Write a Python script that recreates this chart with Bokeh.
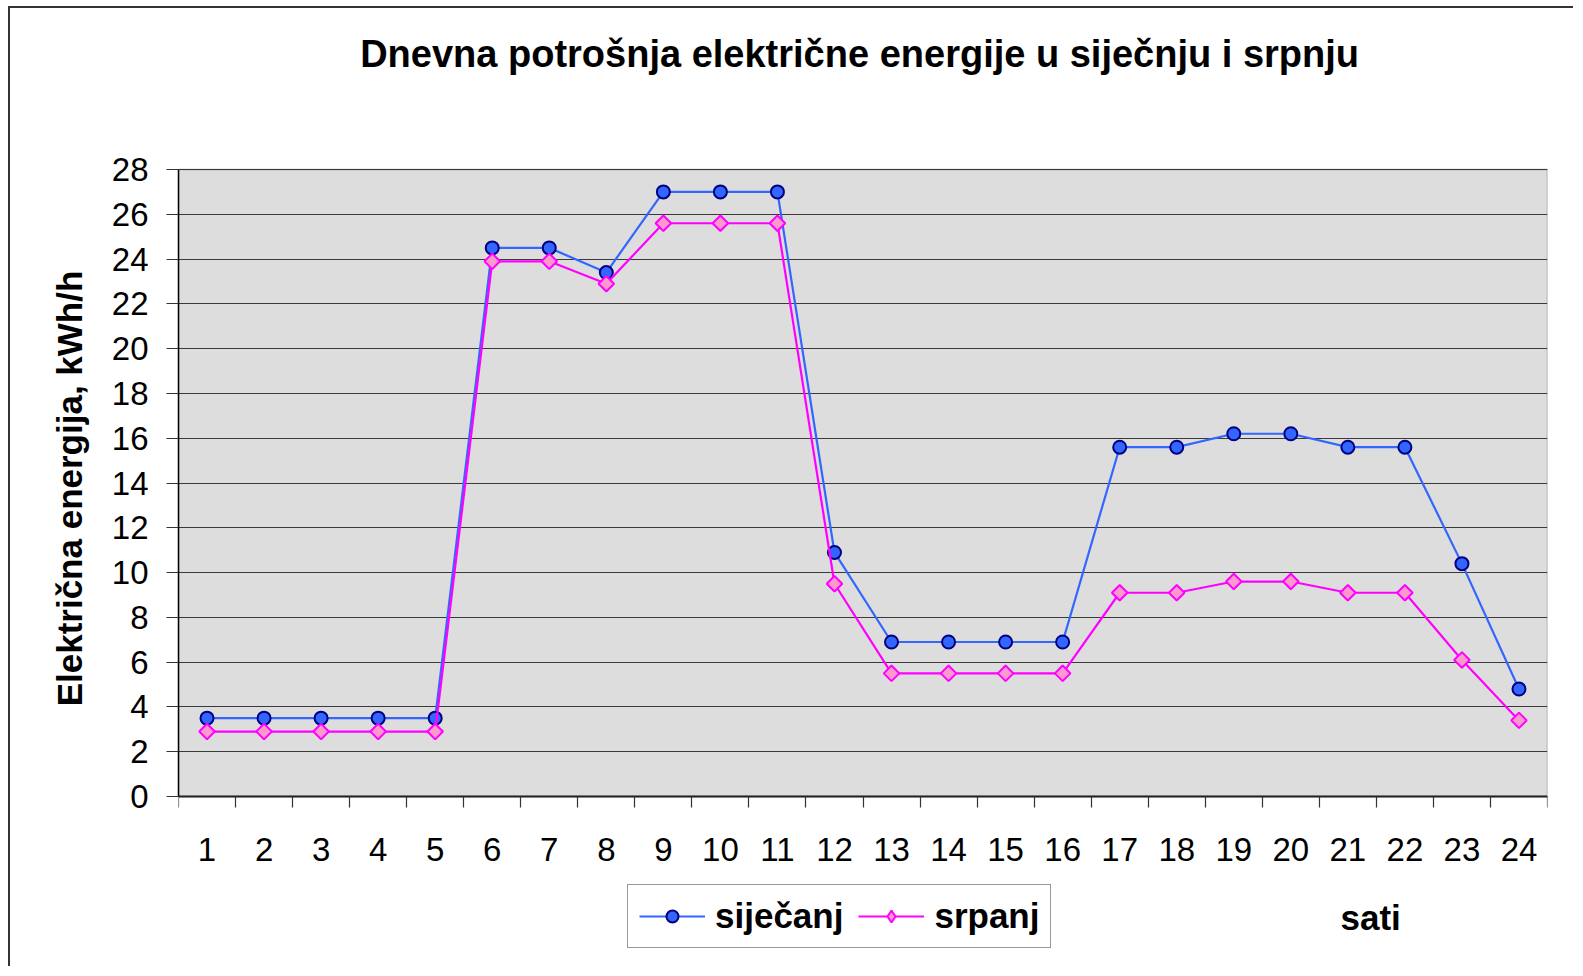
from bokeh.plotting import figure
from bokeh.models import (FixedTicker, Range1d, Label, Legend, LegendItem,
                          ColumnDataSource, BoxAnnotation, Title)
from bokeh.embed import file_html
from bokeh.resources import INLINE
from math import pi

# ---- data ----
hours = list(range(1, 25))
hour_labels = [str(h) for h in hours]
sijecanj = [3.5, 3.5, 3.5, 3.5, 3.5, 24.5, 24.5, 23.4, 27.0, 27.0, 27.0, 10.9,
            6.9, 6.9, 6.9, 6.9, 15.6, 15.6, 16.2, 16.2, 15.6, 15.6, 10.4, 4.8]
srpanj = [2.9, 2.9, 2.9, 2.9, 2.9, 23.9, 23.9, 22.9, 25.6, 25.6, 25.6, 9.5,
          5.5, 5.5, 5.5, 5.5, 9.1, 9.1, 9.6, 9.6, 9.1, 9.1, 6.1, 3.4]
y_ticks = list(range(0, 29, 2))
y_min, y_max = 0, 28

title_text = "Dnevna potrošnja električne energije u siječnju i srpnju"
ylabel_text = "Električna energija, kWh/h"
xlabel_text = "sati"
series_names = ["siječanj", "srpanj"]

FONT = "Liberation Sans"

src = ColumnDataSource(dict(h=hours, s1=sijecanj, s2=srpanj))

# frame extends above and below the plot area so title / legend / "sati"
# can be drawn inside it
p = figure(width=1565, height=960, output_backend="svg", toolbar_location=None,
           x_range=Range1d(0.5, 24.5), y_range=Range1d(-7.68, 35.19),
           min_border_left=168, min_border_top=0, min_border_right=28,
           min_border_bottom=0)
p.styles = {"margin-left": "8px", "margin-top": "6px",
            "border-left": "2px solid #333", "border-top": "2px solid #333"}

p.background_fill_color = "white"
p.border_fill_color = "white"
p.outline_line_color = None

# plot area
p.add_layout(BoxAnnotation(bottom=y_min, top=y_max, fill_color="#DDDDDD",
                           fill_alpha=1, line_color="black", line_width=1.5,
                           level="image"))

# x axis at y = 0
p.xaxis.fixed_location = 0
p.xaxis.ticker = FixedTicker(ticks=hours,
                             minor_ticks=[h - 0.5 for h in hours] + [hours[-1] + 0.5])
p.xaxis.major_label_overrides = {h: l for h, l in zip(hours, hour_labels)}
p.xaxis.major_tick_line_color = None
p.xaxis.major_tick_out = 0
p.xaxis.major_tick_in = 0
p.xaxis.minor_tick_line_color = "#333333"
p.xaxis.minor_tick_out = 11
p.xaxis.minor_tick_in = 0
p.xaxis.minor_tick_line_width = 1.2
p.xaxis.major_label_standoff = 30
p.xaxis.axis_line_color = "#222222"
p.xaxis.axis_line_width = 2
p.xaxis.major_label_text_font = FONT
p.xaxis.major_label_text_font_size = "33px"
p.xaxis.major_label_text_color = "black"

# y axis
p.yaxis.bounds = (y_min, y_max)
p.yaxis.ticker = FixedTicker(ticks=y_ticks, minor_ticks=[])
p.yaxis.major_tick_out = 12
p.yaxis.major_tick_in = 0
p.yaxis.major_tick_line_color = "#333333"
p.yaxis.major_tick_line_width = 1.2
p.yaxis.major_label_standoff = 18
p.yaxis.axis_line_color = "black"
p.yaxis.axis_line_width = 1.5
p.yaxis.major_label_text_font = FONT
p.yaxis.major_label_text_font_size = "33px"
p.yaxis.major_label_text_color = "black"

p.add_layout(Title(text=ylabel_text, align="center", standoff=39,
                   text_font=FONT, text_font_size="35px", text_font_style="bold",
                   text_color="black"), "left")

p.xgrid.visible = False
p.ygrid.ticker = FixedTicker(ticks=y_ticks, minor_ticks=[])
p.ygrid.grid_line_color = "#3a3a3a"
p.ygrid.grid_line_width = 1.2

# series
l1 = p.line("h", "s1", source=src, line_color="#3366FF", line_width=2.2)
m1 = p.scatter("h", "s1", source=src, marker="circle", size=13,
               fill_color="#3366FF", line_color="#000080", line_width=2)
l2 = p.line("h", "s2", source=src, line_color="#FF00FF", line_width=2.2)
m2 = p.scatter("h", "s2", source=src, marker="square", size=11, angle=pi / 4,
               fill_color="#FF99CC", line_color="#FF00FF", line_width=2)
# legend-only marker (legend glyphs ignore marker angle); hidden in the plot
m2_leg = p.scatter("h", "s2", source=src, marker="diamond", size=21,
                   fill_color="#FF99CC", line_color="#FF00FF", line_width=2,
                   visible=False)

legend = Legend(items=[LegendItem(label=series_names[0], renderers=[l1, m1]),
                       LegendItem(label=series_names[1], renderers=[l2, m2_leg])],
                orientation="horizontal", location=(449, 20))
legend.label_text_font = FONT
legend.label_text_font_size = "35px"
legend.label_text_font_style = "bold"
legend.label_text_color = "black"
legend.label_standoff = 10
legend.glyph_width = 66
legend.glyph_height = 30
legend.spacing = 15
legend.padding = 11
legend.margin = 0
legend.border_line_color = "#333333"
legend.border_line_width = 1.2
legend.background_fill_color = "white"
legend.background_fill_alpha = 1
legend.inactive_fill_alpha = 0
p.add_layout(legend)

# texts
p.add_layout(Label(x=12.44, y=33.18, text=title_text, text_align="center",
                   text_baseline="middle", text_font=FONT, text_font_size="38px",
                   text_font_style="bold", text_color="black"))
p.add_layout(Label(x=21.4, y=-5.4, text=xlabel_text, text_align="center",
                   text_baseline="middle", text_font=FONT, text_font_size="35px",
                   text_font_style="bold", text_color="black"))

open("out.html", "w").write(file_html(p, INLINE))
